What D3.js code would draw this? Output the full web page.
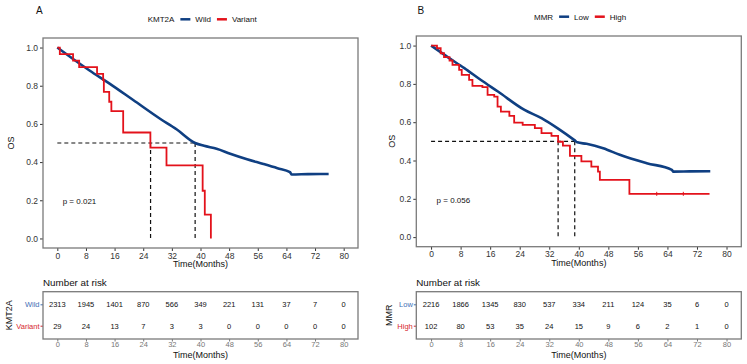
<!DOCTYPE html>
<html><head><meta charset="utf-8">
<script src="https://cdn.jsdelivr.net/npm/d3@7"></script>
<style>body{margin:0;background:#fff;} svg{display:block;font-family:"Liberation Sans",Arial,sans-serif;}</style>
</head><body>
<svg id="c" width="747" height="364"></svg>
<script>
// ---------- data ----------
const timeTicks = [0, 8, 16, 24, 32, 40, 48, 56, 64, 72, 80];
const survTicks = [0.0, 0.2, 0.4, 0.6, 0.8, 1.0];

// Panel A: KMT2A
const groupsA = ["Wild", "Variant"];
const wildT = [0, 4.4, 9.0, 14.7, 21.2, 28.7, 33.3, 38.5, 41, 44.5, 48.3, 53, 57.6, 61.5, 65, 65.5, 70, 75.8];
const wildS = [1, 0.94, 0.88, 0.81, 0.725, 0.627, 0.572, 0.5, 0.485, 0.47, 0.444, 0.415, 0.39, 0.368, 0.347, 0.335, 0.337, 0.338];
const variantT = [0, 0.7, 4.4, 6.1, 11.1, 12.8, 13.0, 14.5, 15.1, 18.4, 26.0, 30.5, 40.6, 41.2, 42.9];
const variantS = [1, 0.966, 0.931, 0.897, 0.862, 0.83, 0.768, 0.716, 0.667, 0.555, 0.476, 0.383, 0.25, 0.125, 0];
const riskWild = [2313, 1945, 1401, 870, 566, 349, 221, 131, 37, 7, 0];
const riskVariant = [29, 24, 13, 7, 3, 3, 0, 0, 0, 0, 0];
const medianA = [26.05, 38.5];
const pA = "p = 0.021";

// Panel B: MMR
const groupsB = ["Low", "High"];
const lowT = [0, 4.5, 9.0, 13.5, 18.1, 25.3, 29.9, 34.5, 38.9, 39.6, 42.1, 46.6, 51.1, 58.4, 65.2, 65.6, 70, 75.6];
const lowS = [1, 0.94, 0.882, 0.82, 0.76, 0.664, 0.621, 0.565, 0.505, 0.495, 0.487, 0.464, 0.43, 0.386, 0.351, 0.342, 0.343, 0.344];
const highT = [0, 1.6, 2.6, 3.5, 5.0, 5.8, 7.6, 8.3, 10.3, 11.2, 13.9, 15.3, 17.1, 18.0, 18.9, 21.2, 22.5, 24.8, 28.1, 29.9, 32.6, 34.4, 35.7, 37.6, 40.7, 43.4, 45.2, 45.7, 53.7, 75.4];
const highS = [1, 0.986, 0.96, 0.94, 0.922, 0.899, 0.873, 0.847, 0.821, 0.79, 0.783, 0.743, 0.734, 0.681, 0.655, 0.633, 0.598, 0.586, 0.569, 0.543, 0.529, 0.498, 0.478, 0.424, 0.395, 0.368, 0.342, 0.299, 0.226, 0.226];
const highCensor = [61.1, 68.3];
const riskLow = [2216, 1866, 1345, 830, 537, 334, 211, 124, 35, 6, 0];
const riskHigh = [102, 80, 53, 35, 24, 15, 9, 6, 2, 1, 0];
const medianB = [34.4, 38.9];
const pB = "p = 0.056";

// ---------- drawing ----------
const BLUE = "#0f3f82", RED = "#e3121b", BLUE_LBL = "#3f6fb5", RED_LBL = "#d6262e";
const FONT = "Liberation Sans, Arial";
const svg = d3.select("#c");

function panel(cfg) {
  const g = svg.append("g");
  const x = d3.scaleLinear().domain([-4, 84]).range([cfg.x0, cfg.x1]);
  const y = d3.scaleLinear().domain([-0.05, 1.05]).range([cfg.y1, cfg.y0]);

  // panel letter
  g.append("text").attr("x", cfg.letterX).attr("y", 14).attr("font-size", 10).attr("fill", "#111").text(cfg.letter);

  // legend
  const lg = g.append("g").attr("font-size", 8).attr("fill", "#111");
  let lx = cfg.legX;
  const ly = cfg.legY;
  const t0 = lg.append("text").attr("x", lx).attr("y", ly + 3).text(cfg.legTitle);
  lx += t0.node().getComputedTextLength() + 6;
  cfg.groups.forEach((name, i) => {
    lg.append("line").attr("x1", lx).attr("x2", lx + 10).attr("y1", ly).attr("y2", ly)
      .attr("stroke", i === 0 ? BLUE : RED).attr("stroke-width", 2.5);
    const t = lg.append("text").attr("x", lx + 15).attr("y", ly + 3).text(name);
    lx += 15 + t.node().getComputedTextLength() + 6;
  });

  // axes ticks
  const ax = g.append("g").attr("transform", `translate(0,${cfg.y1})`)
    .call(d3.axisBottom(x).tickValues(timeTicks).tickSize(3).tickPadding(1.5).tickFormat(d3.format("d")));
  ax.select(".domain").remove();
  ax.selectAll("line").attr("stroke", "#333");
  ax.selectAll("text").attr("font-size", 8.5).attr("fill", "#333").attr("font-family", FONT);
  const ay = g.append("g").attr("transform", `translate(${cfg.x0},0)`)
    .call(d3.axisLeft(y).tickValues(survTicks).tickSize(3).tickPadding(2).tickFormat(d3.format(".1f")));
  ay.select(".domain").remove();
  ay.selectAll("line").attr("stroke", "#333");
  ay.selectAll("text").attr("font-size", 8.5).attr("fill", "#333").attr("font-family", FONT);

  // axis titles
  g.append("text").attr("x", (cfg.x0 + cfg.x1) / 2).attr("y", cfg.y1 + 19).attr("text-anchor", "middle")
    .attr("font-size", 9).attr("fill", "#111").text("Time(Months)");
  g.append("text").attr("transform", `translate(${cfg.osX},${(cfg.y0 + cfg.y1) / 2}) rotate(-90)`)
    .attr("text-anchor", "middle").attr("font-size", 9).attr("fill", "#111").text("OS");

  // median lines
  const dash = g.append("g").attr("stroke", "#111").attr("stroke-width", 1.2).attr("stroke-dasharray", "4,3").attr("fill", "none");
  dash.append("line").attr("x1", x(0)).attr("x2", x(d3.max(cfg.medians))).attr("y1", y(0.5)).attr("y2", y(0.5));
  cfg.medians.forEach(m => dash.append("line").attr("x1", x(m)).attr("x2", x(m)).attr("y1", y(0.5)).attr("y2", y(0)));

  // curves
  const smooth = d3.line().x(d => x(d[0])).y(d => y(d[1])).curve(d3.curveMonotoneX);
  const step = d3.line().x(d => x(d[0])).y(d => y(d[1])).curve(d3.curveStepAfter);
  g.append("path").datum(d3.zip(cfg.bT, cfg.bS)).attr("d", smooth).attr("fill", "none")
    .attr("stroke", BLUE).attr("stroke-width", 2.6).attr("stroke-linejoin", "round");
  g.append("path").datum(d3.zip(cfg.rT, cfg.rS)).attr("d", step).attr("fill", "none")
    .attr("stroke", RED).attr("stroke-width", 1.8);
  (cfg.rCensor || []).forEach(t => {
    const yy = y(cfg.rS[cfg.rS.length - 1]);
    g.append("line").attr("x1", x(t)).attr("x2", x(t)).attr("y1", yy - 2).attr("y2", yy + 2).attr("stroke", RED).attr("stroke-width", 1);
  });

  // p value
  g.append("text").attr("x", x(1.5)).attr("y", y(0.18)).attr("font-size", 8).attr("fill", "#111").text(cfg.p);

  // border
  g.append("rect").attr("x", cfg.x0).attr("y", cfg.y0).attr("width", cfg.x1 - cfg.x0).attr("height", cfg.y1 - cfg.y0)
    .attr("fill", "none").attr("stroke", "#7a7a7a").attr("stroke-width", 1.3);

  // ---- risk table ----
  const ry0 = 291.7, ry1 = 339;
  const yr = d3.scalePoint().domain(cfg.groups).range([304.3, 325.7]);
  g.append("text").attr("x", cfg.x0).attr("y", 286).attr("font-size", 9.8).attr("fill", "#111").text("Number at risk");
  const rax = g.append("g").attr("transform", `translate(0,${ry1})`)
    .call(d3.axisBottom(x).tickValues(timeTicks).tickSize(2.5).tickPadding(0.5).tickFormat(d3.format("d")));
  rax.select(".domain").remove();
  rax.selectAll("line").attr("stroke", "#777");
  rax.selectAll("text").attr("font-size", 7.5).attr("fill", "#777").attr("font-family", FONT);
  const ray = g.append("g").attr("transform", `translate(${cfg.x0},0)`)
    .call(d3.axisLeft(yr).tickSize(2.5).tickPadding(1));
  ray.select(".domain").remove();
  ray.selectAll("line").attr("stroke", (d, i) => i === 0 ? BLUE_LBL : RED_LBL);
  ray.selectAll("text").attr("font-size", 7.5).attr("font-family", FONT)
    .attr("fill", (d, i) => i === 0 ? BLUE_LBL : RED_LBL);
  g.append("text").attr("x", (cfg.x0 + cfg.x1) / 2).attr("y", 357.5).attr("text-anchor", "middle")
    .attr("font-size", 9).attr("fill", "#111").text("Time(Months)");
  g.append("text").attr("transform", `translate(${cfg.tblTitleX},${(ry0 + ry1) / 2}) rotate(-90)`)
    .attr("text-anchor", "middle").attr("font-size", 9).attr("fill", "#111").text(cfg.legTitle);
  [cfg.risk0, cfg.risk1].forEach((arr, gi) => {
    g.append("g").selectAll("text").data(arr).join("text")
      .attr("x", (d, i) => x(timeTicks[i])).attr("y", yr(cfg.groups[gi]) + 3)
      .attr("text-anchor", "middle").attr("font-size", 7.5).attr("fill", "#111").text(d => d);
  });
  g.append("rect").attr("x", cfg.x0).attr("y", ry0).attr("width", cfg.x1 - cfg.x0).attr("height", ry1 - ry0)
    .attr("fill", "none").attr("stroke", "#7a7a7a").attr("stroke-width", 1.3);
}

panel({
  letter: "A", letterX: 36, legTitle: "KMT2A", legX: 147.7, legY: 19.3, groups: groupsA,
  x0: 43, x1: 358, y0: 38, y1: 248, osX: 14, tblTitleX: 12,
  bT: wildT, bS: wildS, rT: variantT, rS: variantS, medians: medianA, p: pA,
  risk0: riskWild, risk1: riskVariant
});
panel({
  letter: "B", letterX: 417.5, legTitle: "MMR", legX: 534, legY: 16.7, groups: groupsB,
  x0: 416.3, x1: 741.3, y0: 36, y1: 246.7, osX: 395, tblTitleX: 392,
  bT: lowT, bS: lowS, rT: highT, rS: highS, rCensor: highCensor, medians: medianB, p: pB,
  risk0: riskLow, risk1: riskHigh
});
</script>
</body></html>
